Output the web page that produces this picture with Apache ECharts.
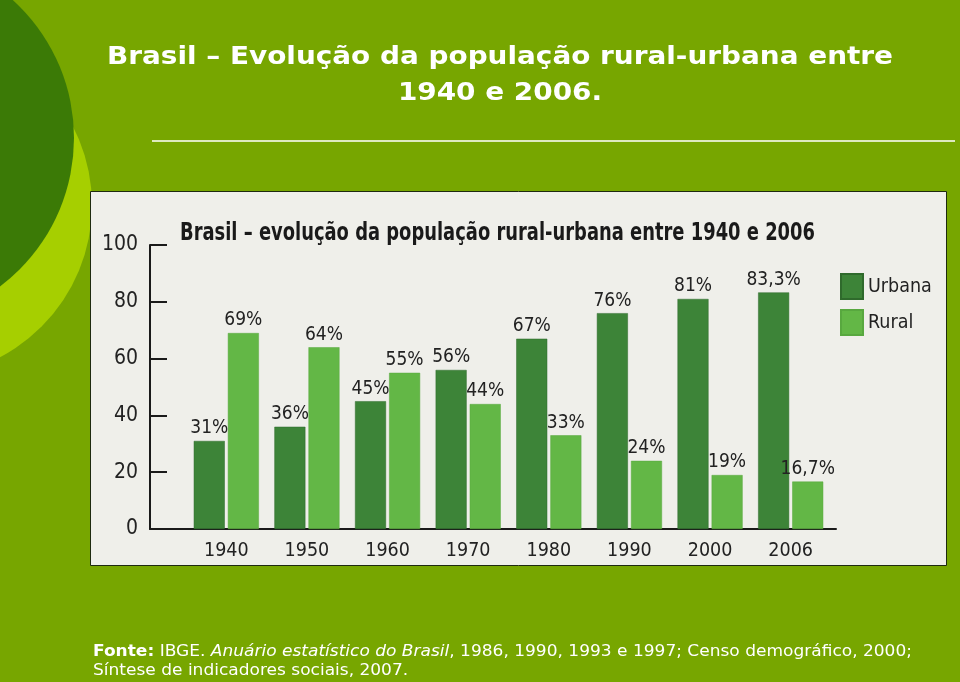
<!DOCTYPE html>
<html>
<head>
<meta charset="utf-8">
<script src="https://cdn.jsdelivr.net/npm/echarts@6/dist/echarts.min.js"></script>
<style>
  html, body { margin: 0; padding: 0; background: #77a600; }
  #chart { width: 960px; height: 682px; }
</style>
</head>
<body>
<div id="chart"></div>
<script>
// ---- data ----
const years = ['1940', '1950', '1960', '1970', '1980', '1990', '2000', '2006'];
const urbana = [31, 36, 45, 56, 67, 76, 81, 83.3];
const rural = [69, 64, 55, 44, 33, 24, 19, 16.7];
const yTicks = [0, 20, 40, 60, 80, 100];
const seriesNames = ['Urbana', 'Rural'];
const slideTitle1 = 'Brasil – Evolução da população rural-urbana entre';
const slideTitle2 = '1940 e 2006.';
const chartTitle = 'Brasil – evolução da população rural-urbana entre 1940 e 2006';
const sourceLine1 = ['Fonte:', ' IBGE. ', 'Anuário estatístico do Brasil', ', 1986, 1990, 1993 e 1997; Censo demográfico, 2000;'];
const sourceLine2 = 'Síntese de indicadores sociais, 2007.';

const narrow = "'Liberation Sans Narrow', 'DejaVu Sans Condensed', 'Roboto Condensed', 'Liberation Sans', sans-serif";
const wideFam = "'DejaVu Sans', Verdana, sans-serif";
const pct = v => String(v).replace('.', ',') + '%';

// text measuring, used only to fit text widths to the layout
const mctx = document.createElement('canvas').getContext('2d');
function tw(font, s) { mctx.font = font; return mctx.measureText(s).width; }

const titleFont = "bold 25px " + wideFam;
const titleScale = 786 / tw(titleFont, slideTitle1);
const innerFont = "bold 25px " + narrow;
const innerScale = 635 / tw(innerFont, chartTitle);
const srcSize = 16.5;
const srcW = tw("bold " + srcSize + "px " + wideFam, sourceLine1[0]) +
             tw(srcSize + "px " + wideFam, sourceLine1[1]) +
             tw("italic " + srcSize + "px " + wideFam, sourceLine1[2]) +
             tw(srcSize + "px " + wideFam, sourceLine1[3]);
const srcScale = 819 / srcW;

const chart = echarts.init(document.getElementById('chart'), null, { renderer: 'canvas' });

const barLabel = {
  show: true, position: 'top', distance: 3,
  fontFamily: narrow, fontSize: 19, color: '#222',
  formatter: p => pct(p.value)
};

chart.setOption({
  backgroundColor: '#77a600',
  animation: false,
  legend: {
    data: seriesNames, orient: 'vertical', left: 840, top: 273,
    itemWidth: 22, itemHeight: 25, itemGap: 9, padding: 0, icon: 'rect',
    textStyle: { fontFamily: narrow, fontSize: 19.5, color: '#222' }
  },
  graphic: [
    { type: 'circle', z: -10, silent: true, shape: { cx: -80, cy: 205, r: 172 }, style: { fill: '#a6cf00' } },
    { type: 'circle', z: -9, silent: true, shape: { cx: -112, cy: 138, r: 186 }, style: { fill: '#3b7a06' } },
    { type: 'text', z: -8, silent: true, x: 500, y: 57, scaleX: titleScale, scaleY: 1,
      style: { text: slideTitle1, fill: '#fff', font: titleFont, align: 'center', verticalAlign: 'middle' } },
    { type: 'text', z: -8, silent: true, x: 500, y: 93, scaleX: titleScale, scaleY: 1,
      style: { text: slideTitle2, fill: '#fff', font: titleFont, align: 'center', verticalAlign: 'middle' } },
    { type: 'line', z: -8, silent: true, shape: { x1: 152, y1: 141, x2: 955, y2: 141 }, style: { stroke: '#ffffff', lineWidth: 1.5 } },
    { type: 'rect', z: -8, silent: true, shape: { x: 90.5, y: 191.5, width: 856, height: 374 }, style: { fill: '#efefea', stroke: '#1e2a10', lineWidth: 1 } },
    { type: 'text', z: -7, silent: true, x: 180, y: 233, scaleX: innerScale, scaleY: 1,
      style: { text: chartTitle, fill: '#1a1a1a', font: innerFont, verticalAlign: 'middle' } },
    { type: 'text', z: -7, silent: true, x: 93, y: 652, scaleX: srcScale, scaleY: 1,
      style: {
        text: '{b|' + sourceLine1[0] + '}' + sourceLine1[1] + '{i|' + sourceLine1[2] + '}' + sourceLine1[3],
        fill: '#fff', font: srcSize + "px " + wideFam, verticalAlign: 'middle',
        rich: {
          b: { fontWeight: 'bold', fontFamily: wideFam, fontSize: srcSize, fill: '#fff' },
          i: { fontStyle: 'italic', fontFamily: wideFam, fontSize: srcSize, fill: '#fff' }
        }
      } },
    { type: 'text', z: -7, silent: true, x: 93, y: 671, scaleX: srcScale, scaleY: 1,
      style: { text: sourceLine2, fill: '#fff', font: srcSize + "px " + wideFam, verticalAlign: 'middle' } }
  ],
  grid: [
    { left: 150, top: 245, width: 686, height: 284 },
    { left: 186, top: 245, width: 645, height: 284 }
  ],
  xAxis: [
    { type: 'value', gridIndex: 0, min: 0, max: 1,
      axisLine: { show: true, onZero: false, lineStyle: { color: '#1a1a1a', width: 2 } },
      axisTick: { show: false }, axisLabel: { show: false }, splitLine: { show: false } },
    { type: 'category', gridIndex: 1, data: years,
      axisLine: { show: false }, axisTick: { show: false },
      axisLabel: { margin: 12, fontFamily: narrow, fontSize: 19.5, color: '#222' } }
  ],
  yAxis: [
    { type: 'value', gridIndex: 0, min: yTicks[0], max: yTicks[yTicks.length - 1], interval: 20,
      axisLine: { show: true, lineStyle: { color: '#1a1a1a', width: 2 } },
      axisTick: { show: true, inside: true, length: 17, lineStyle: { color: '#1a1a1a', width: 2 } },
      axisLabel: { margin: 12, fontFamily: narrow, fontSize: 21, color: '#222' },
      splitLine: { show: false } },
    { type: 'value', gridIndex: 1, min: 0, max: 100, show: false }
  ],
  series: [
    { name: seriesNames[0], type: 'bar', xAxisIndex: 1, yAxisIndex: 1, data: urbana,
      barWidth: 31, barGap: '10%',
      itemStyle: { color: '#3d8438', borderColor: '#2f6a2c', borderWidth: 0.5 },
      label: barLabel },
    { name: seriesNames[1], type: 'bar', xAxisIndex: 1, yAxisIndex: 1, data: rural,
      barWidth: 31,
      itemStyle: { color: '#63b746', borderColor: '#58a83f', borderWidth: 0.5 },
      label: barLabel }
  ]
});
</script>
</body>
</html>
